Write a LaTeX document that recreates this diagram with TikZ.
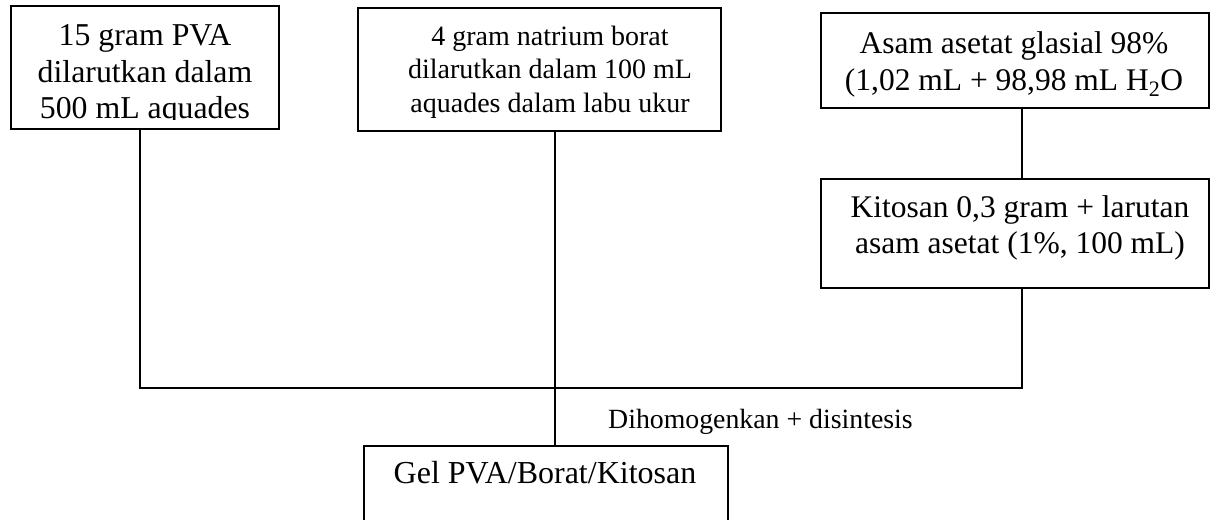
\documentclass[tikz,border=0pt]{standalone}
\usepackage{fontspec}
\setmainfont{Liberation Serif}
\begin{document}
\begin{tikzpicture}[x=1pt,y=-1pt,
  box/.style={draw, line width=1.7pt, inner sep=0pt, anchor=north west},
  txt/.style={align=center, inner sep=0pt, anchor=base},
  big/.style={txt, font=\fontsize{31.8}{36.5}\selectfont},
  mid/.style={txt, font=\fontsize{28}{33.5}\selectfont},
  link/.style={line width=1.7pt}]
\useasboundingbox (0,0) rectangle (1222,519);
% boxes
\node[box, minimum width=268pt, minimum height=123pt] (b1) at (10,5) {};
\node[box, minimum width=363pt, minimum height=123pt] (b2) at (357,7) {};
\node[box, minimum width=388pt, minimum height=95pt] (b3) at (820,12) {};
\node[box, minimum width=388pt, minimum height=109pt] (b4) at (820,178) {};
\node[box, minimum width=364pt, minimum height=110pt] (b5) at (363,445) {};
% texts
\begin{scope}
  \clip (10,5) rectangle (278,119.5);
  \node[big] (t1) at (145,118.5) {15 gram PVA\\dilarutkan dalam\\500 mL aquades};
\end{scope}
\node[mid] (t2) at (550,112) {4 gram natrium borat\\dilarutkan dalam 100 mL\\aquades dalam labu ukur};
\node[big, font=\fontsize{31.5}{37}\selectfont] (t3) at (1014,90) {Asam asetat glasial 98\%\\(1,02 mL + 98,98 mL H\textsubscript{2}O};
\node[big, font=\fontsize{31.5}{36}\selectfont] (t4) at (1020,253) {Kitosan 0,3 gram + larutan\\asam asetat (1\%, 100 mL)};
\node[big, font=\fontsize{32}{36}\selectfont] (t5) at (545,483) {Gel PVA/Borat/Kitosan};
\node[inner sep=0pt, anchor=base west, font=\fontsize{27.8}{33}\selectfont] (lbl) at (608,428) {Dihomogenkan + disintesis};
% junctions
\coordinate (j1) at (140,388);
\coordinate (jm) at (555,388);
\coordinate (j4) at (1022,388);
% connectors
\draw[link] (b1.south -| j1) -- (j1) -- (j4) -- (b4.south -| j4);
\draw[link] (b3.south -| j4) -- (b4.north -| j4);
\draw[link] (b2.south -| jm) -- (b5.north -| jm);
\end{tikzpicture}
\end{document}
